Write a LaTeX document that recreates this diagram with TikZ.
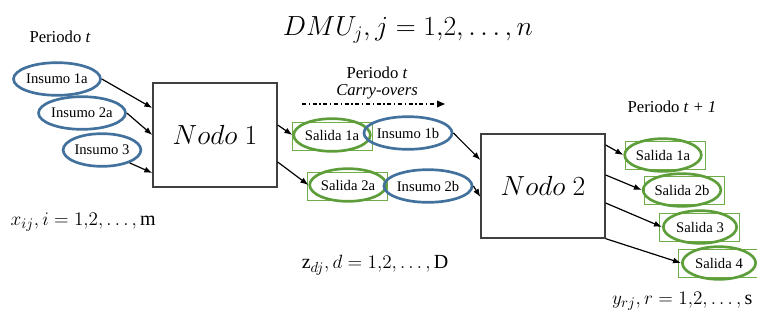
\documentclass[tikz,border=0pt]{standalone}
\usepackage{fontspec}
\setmainfont{Liberation Serif}
\usetikzlibrary{arrows.meta, shapes.geometric, calc}
\definecolor{insblue}{HTML}{41719C}
\definecolor{salgreen}{HTML}{5E9E3A}
\definecolor{boxgreen}{HTML}{70AD47}
\definecolor{edge}{HTML}{404040}
\tikzset{
  insumo/.style={
    ellipse, draw=insblue, line width=2pt, inner sep=0pt,
    minimum width=55pt, minimum height=24.5pt,
    font=\fontsize{11}{12}\selectfont
  },
  salida/.style={insumo, draw=salgreen},
  salbox/.style={rectangle, draw=boxgreen, line width=0.7pt,
    minimum width=60pt, minimum height=21pt},
  nodo/.style={rectangle, draw=edge, line width=1pt,
    minimum width=93pt, minimum height=78pt, font=\fontsize{21.5}{24}\selectfont},
  periodo/.style={font=\fontsize{12.5}{14}\selectfont},
  mathlabel/.style={font=\fontsize{15}{18}\selectfont},
  arrow/.style={-{Latex[length=6pt,width=4.5pt]}, line width=0.9pt, draw=black},
  carry/.style={-{Triangle[length=6pt,width=5pt]}, line width=1pt, dash dot},
}

\begin{document}
\begin{tikzpicture}[x=0.75pt, y=-0.75pt]
  \useasboundingbox (0,0) rectangle (757,322);

  \node[font=\fontsize{20}{24}\selectfont] (dmu) at (408,30)
    {$DMU_j, j = 1{,}2, \ldots, n$};

  \node[periodo] (per1) at (60,37) {Periodo \textit{t}};
  \node[insumo] (in1a) at (57,79) {Insumo 1a};
  \node[insumo] (in2a) at (82,113) {Insumo 2a};
  \node[insumo] (in3) at (102,150) {Insumo 3};

  \node[nodo] (nodo1) at (215,135) {$Nodo\ 1$};

  \node[periodo] (per2) at (377,73) {Periodo \textit{t}};
  \node[periodo] (carryl) at (377,92) {\textit{Carry-overs}};
  \coordinate (co-a) at (302,104);
  \coordinate (co-b) at (445,104);

  \node[salbox] (s1a-box) at (332,136) {};
  \node[salida] (s1a) at (332,135) {Salida 1a};
  \node[insumo] (in1b) at (408,133) {Insumo 1b};
  \node[salbox] (s2a-box) at (347,186) {};
  \node[salida] (s2a) at (348,185) {Salida 2a};
  \node[insumo] (in2b) at (428,186) {Insumo 2b};

  \node[nodo] (nodo2) at (543,186) {$Nodo\ 2$};

  \node[periodo] (per3) at (672,107) {Periodo \textit{t + 1}};
  \node[salbox] (o1a-box) at (665,155) {};
  \node[salida] (o1a) at (663,155) {Salida 1a};
  \node[salbox] (o2b-box) at (684,190) {};
  \node[salida] (o2b) at (682,190) {Salida 2b};
  \node[salbox] (o3-box) at (699,227) {};
  \node[salida] (o3) at (700,227) {Salida 3};
  \node[salbox] (o4-box) at (718,263) {};
  \node[salida] (o4) at (719,263) {Salida 4};

  \node[mathlabel, anchor=west] (xlab) at (6,222)
    {$x_{ij}, i = 1{,}2, \ldots, \mathrm{m}$};
  \node[mathlabel] (zlab) at (375,265)
    {$\mathrm{z}_{dj}, d = 1{,}2, \ldots, \mathrm{D}$};
  \node[mathlabel, anchor=east] (ylab) at (757,301)
    {$y_{rj}, r = 1{,}2, \ldots, \mathrm{s}$};

  \draw[arrow] (in1a.east) -- ($(nodo1.west)+(0,-27)$);
  \draw[arrow] (in2a.east) -- (nodo1.west);
  \draw[arrow] (in3.-25) -- ($(nodo1.west)+(0,38)$);

  \draw[arrow] ($(nodo1.east)+(0,-10)$) -- (s1a.west);
  \draw[arrow] ($(nodo1.east)+(0,27)$) -- (s2a.west);
  \draw[carry] (co-a) -- (co-b);

  \draw[arrow] (in1b.east) -- ($(nodo2.west)+(0,-26)$);
  \draw[arrow] (in2b.east) -- ($(nodo2.west)+(0,11)$);

  \draw[arrow] ($(nodo2.east)+(0,-41)$) -- (o1a.west);
  \draw[arrow] ($(nodo2.east)+(0,-11)$) -- (o2b.west);
  \draw[arrow] ($(nodo2.east)+(0,17)$) -- (o3.west);
  \draw[arrow] (nodo2.south east) -- (o4.west);
\end{tikzpicture}
\end{document}
